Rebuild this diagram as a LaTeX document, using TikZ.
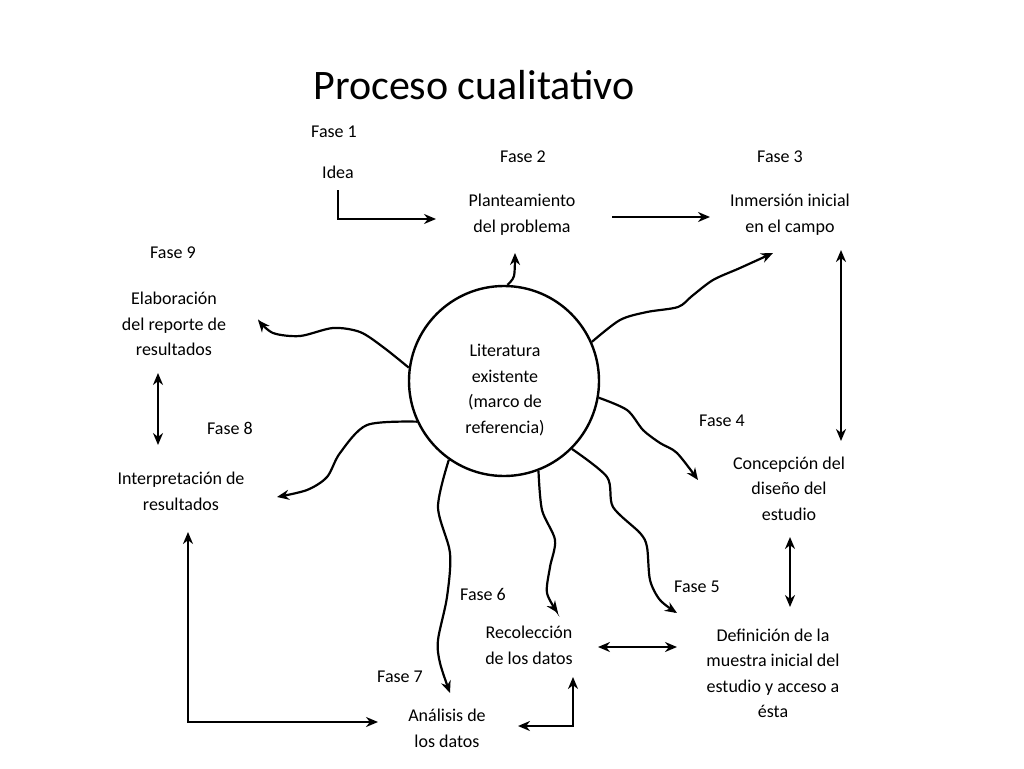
\documentclass[tikz,border=0pt]{standalone}
\usepackage{fontspec}
\setmainfont{Carlito}
\usetikzlibrary{arrows.meta}
\begin{document}
\begin{tikzpicture}[x=1pt,y=-1pt,
  lbl/.style={font=\fontsize{18}{25.5}\selectfont, align=center, inner sep=0pt},
  arr/.style={line width=2.4pt, -{Stealth[length=12pt,width=10pt]}},
  darr/.style={line width=2.4pt, {Stealth[length=12pt,width=10pt]}-{Stealth[length=12pt,width=10pt]}},
  wavy/.style={line width=2.2pt, -{Stealth[length=12pt,width=10pt]}},
]
\useasboundingbox[fill=white] (0,0) rectangle (1024,768);

\node[font=\fontsize{42}{50}\selectfont, inner sep=0pt] (title) at (474,85) {Proceso cualitativo};

% phase labels
\node[lbl] (f1) at (334,132) {Fase 1};
\node[lbl] (f2) at (523,157) {Fase 2};
\node[lbl] (f3) at (780,157) {Fase 3};
\node[lbl] (f9) at (173,253) {Fase 9};
\node[lbl] (f8) at (230,428) {Fase 8};
\node[lbl] (f4) at (722,421) {Fase 4};
\node[lbl] (f5) at (697,587) {Fase 5};
\node[lbl] (f6) at (483,594) {Fase 6};
\node[lbl] (f7) at (400,677) {Fase 7};

% step texts
\node[lbl] (idea) at (338,172) {Idea};
\node[lbl] (plan) at (522,214.5) {Planteamiento\\del problema};
\node[lbl] (inm) at (790,214.5) {Inmersión inicial\\en el campo};
\node[lbl] (elab) at (174,324) {Elaboración\\del reporte de\\resultados};
\node[lbl] (interp) at (181,491.5) {Interpretación de\\resultados};
\node[lbl] (conc) at (789,488.5) {Concepción del\\diseño del\\estudio};
\node[lbl] (defi) at (773,673.5) {Definición de la\\muestra inicial del\\estudio y acceso a\\ésta};
\node[lbl] (reco) at (529,645.5) {Recolección\\de los datos};
\node[lbl] (anal) at (447,728.5) {Análisis de\\los datos};

% central circle
\node[draw, circle, line width=2.4pt, minimum size=190pt, inner sep=0pt] (lit) at (504,381) {};
\node[lbl] (littext) at (505,390) {Literatura\\existente\\(marco de\\referencia)};

% straight connectors
\coordinate (i1) at (338,190);
\coordinate (i2) at (436,219);
\draw[arr] (i1) |- (i2);

\coordinate (p1) at (612,217);
\coordinate (p2) at (710,217);
\draw[arr] (p1) -- (p2);

\coordinate (c1) at (841,250);
\coordinate (c2) at (841,441);
\draw[darr] (c1) -- (c2);

\coordinate (d1) at (790,537);
\coordinate (d2) at (790,607);
\draw[darr] (d1) -- (d2);

\coordinate (r1) at (598,647);
\coordinate (r2) at (677,647);
\draw[darr] (r1) -- (r2);

\coordinate (a1) at (573,677);
\coordinate (a2) at (518,726);
\draw[darr] (a1) |- (a2);

\coordinate (e1) at (158,373);
\coordinate (e2) at (158,445);
\draw[darr] (e1) -- (e2);

\coordinate (n1) at (188,532);
\coordinate (n2) at (378,722);
\draw[darr] (n1) |- (n2);

% wavy connectors from the circle
\coordinate (tTop) at (515,253);
\draw[wavy] plot[smooth] coordinates {(lit.88) (514,276) (tTop)};

\coordinate (tInm) at (773,253);
\draw[wavy] plot[smooth] coordinates {(lit.24) (620,320) (647,312) (678,307) (692,296) (713,280) (740,268) (tInm)};

\coordinate (tElab) at (258,320);
\draw[wavy] plot[smooth] coordinates {(lit.172) (383,347) (360,332) (333,328) (300,336) (273,333) (tElab)};

\coordinate (tInt) at (277,497);
\draw[wavy] plot[smooth] coordinates {(lit.205) (367,425) (340,453) (327,477) (307,490) (tInt)};

\coordinate (tConc) at (698,480);
\draw[wavy] plot[smooth] coordinates {(lit.-10) (627,410) (643,430) (660,443) (677,453) (tConc)};

\coordinate (tDefi) at (677,613);
\draw[wavy] plot[smooth] coordinates {(lit.-45) (607,477) (613,507) (640,533) (647,547) (650,580) (660,600) (tDefi)};

\coordinate (tReco) at (558,613);
\draw[wavy] plot[smooth] coordinates {(lit.-69) (542,510) (555,540) (550,567) (547,593) (tReco)};

\coordinate (tAnal) at (450,693);
\draw[wavy] plot[smooth] coordinates {(lit.-125) (438,507) (450,553) (447,597) (438,640) (440,663) (tAnal)};
\end{tikzpicture}
\end{document}
